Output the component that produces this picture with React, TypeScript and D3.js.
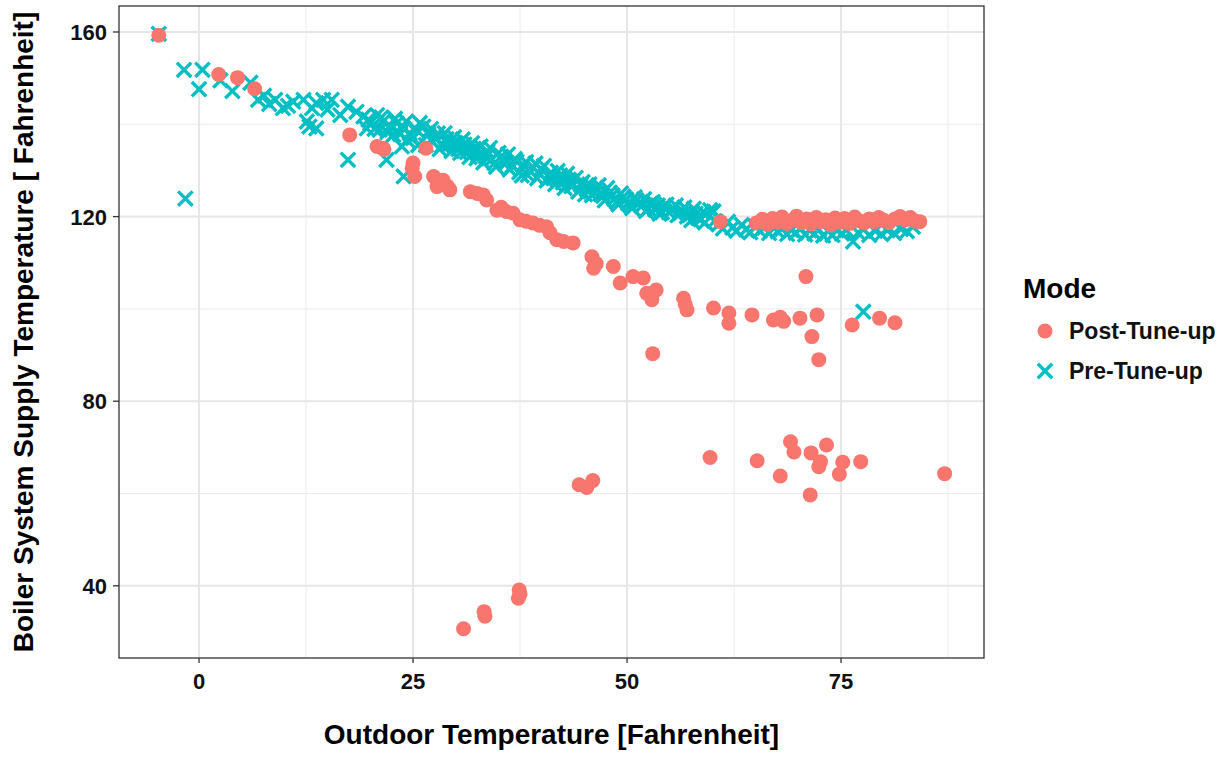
import React from "react";
import * as d3 from "d3";

// Pre-Tune-up (cyan X) points: [outdoor temp, supply temp]
const preX: number[] = [
  -4.7, -1.75, 0.4, 0.0, -1.6, 3.9, 2.5, 6.0, 6.9, 8.9, 9.8, 11.0, 12.2, 13.2, 13.7, 14.5, 15.5, 12.6, 13.7, 12.9,
  16.5, 17.4, 18.4, 17.4, 19.2, 20.0, 20.8, 21.5, 22.3, 23.1, 23.9, 24.6, 25.4, 26.2, 19.6, 21.1, 22.7, 24.3, 25.6, 23.7,
  21.9, 23.9, 7.6, 8.2, 10.4, 15.0,
  26.8, 27.3, 27.9, 28.4, 28.9, 29.5, 30.0, 30.5, 31.0, 31.6, 32.1, 32.6, 33.2, 33.7, 34.2, 34.7, 35.3, 35.8, 36.3, 36.9,
  37.4, 37.9, 38.4, 39.0, 39.5, 40.0, 40.6, 41.1, 41.6, 42.2, 42.7, 43.2, 43.7, 44.3, 44.8, 45.3, 45.9, 46.4, 46.9, 47.4,
  48.0, 48.5, 49.0, 49.6, 50.1, 50.6, 51.1, 51.7, 52.2, 52.7, 53.3, 53.8, 54.3, 54.9, 55.4, 55.9, 56.4, 57.0, 57.5, 58.0,
  58.6, 59.1, 59.7, 60.1, 60.2, 60.7, 61.2, 61.8, 62.3, 62.8, 63.4, 63.9, 64.4, 65.0, 65.5, 66.0, 66.6, 67.1, 67.6, 68.1,
  68.7, 69.2, 69.7, 70.3, 70.8, 71.3, 71.9, 72.4, 72.9, 73.5, 74.0, 74.5, 75.1, 75.6, 76.4, 77.0, 77.6, 78.3, 79.0, 79.7,
  80.4, 81.2, 82.0, 82.7, 83.4, 77.6,
  19.8, 20.5, 21.3, 22.0, 22.9, 23.5, 24.2, 25.0, 25.8, 26.5, 27.1, 27.6, 28.1, 28.7, 29.2, 29.8, 30.3, 30.8, 31.3, 31.9,
  32.4, 32.9, 33.5, 34.0, 34.5, 35.0, 35.6, 36.1, 36.6, 37.1, 37.7, 38.2, 38.7, 39.3, 39.8, 40.3, 40.9, 41.4, 41.9, 42.5,
  43.0, 43.5, 44.0, 44.6, 45.1, 45.6, 46.2, 46.7, 47.2, 47.7, 48.3, 48.8, 49.3, 49.9, 50.4, 50.9, 51.4, 52.0, 52.5, 53.0,
  53.6, 54.1, 54.6, 55.2, 55.7, 56.2, 56.7, 57.3, 57.8, 58.3, 58.9,
];
const preY: number[] = [
  159.6, 151.8, 151.8, 147.6, 123.9, 147.2, 149.5, 149.0, 145.3, 145.3, 143.5, 144.9, 145.3, 143.5, 144.6, 145.3, 145.3, 140.6, 139.1, 139.5,
  142.0, 143.8, 142.7, 132.3, 141.7, 140.2, 142.0, 140.6, 139.5, 140.2, 139.1, 138.1, 138.8, 139.5, 139.1, 138.8, 137.7, 136.6, 135.5, 135.2,
  132.3, 128.7, 146.2, 144.4, 144.0, 143.2,
  137.9, 136.2, 138.0, 135.4, 136.8, 134.2, 135.9, 133.8, 135.6, 132.9, 134.7, 133.2, 131.7, 134.1, 132.4, 130.8, 133.0, 131.5, 130.2, 132.5,
  129.6, 131.2, 129.0, 130.7, 128.3, 130.3, 127.8, 129.5, 127.0, 128.9, 126.2, 128.0, 126.8, 125.4, 127.5, 125.9, 124.6, 126.3, 124.9, 123.5,
  125.2, 123.8, 122.6, 124.3, 122.9, 121.8, 123.5, 122.3, 121.2, 122.8, 121.5, 120.6, 122.1, 120.9, 121.8, 120.3, 121.4, 120.0, 119.2, 120.6,
  119.4, 118.7, 121.4, 121.1, 119.0, 118.3, 117.4, 118.9, 117.6, 116.9, 118.2, 117.2, 116.6, 117.9, 116.9, 117.5, 116.4, 117.6, 116.8, 117.3,
  116.2, 117.1, 116.5, 117.4, 116.1, 117.0, 116.3, 117.2, 115.9, 116.8, 116.0, 117.0, 116.3, 117.1, 114.6, 116.5, 117.2, 116.0, 116.9, 116.2,
  117.0, 116.4, 117.3, 116.8, 117.8, 99.4,
  141.0, 139.0, 141.5, 138.3, 141.2, 137.9, 140.6, 137.0, 140.3, 135.5, 139.0, 137.2, 134.6, 138.1, 135.6, 137.2, 134.6, 136.7, 134.0, 135.9,
  132.6, 135.2, 133.0, 134.9, 131.6, 133.8, 132.1, 133.5, 131.0, 131.9, 128.9, 131.8, 129.9, 131.5, 129.2, 131.0, 128.6, 128.3, 129.9, 127.4,
  129.3, 126.6, 128.4, 126.9, 124.8, 127.0, 125.2, 126.8, 124.5, 126.2, 124.6, 123.2, 125.0, 123.7, 122.4, 124.2, 122.9, 123.8, 121.7, 123.2,
  122.4, 120.9, 122.6, 121.4, 122.4, 120.7, 122.0, 120.5, 121.7, 119.7, 121.0,
];

// Post-Tune-up (red circle) points
const postX: number[] = [
  -4.7, 2.3, 4.5, 6.5, 17.6, 20.8, 21.5, 21.6, 25.0, 25.2, 24.9, 26.5,
  27.4, 28.5, 29.3, 27.8, 28.2, 29.0, 31.7, 33.2, 33.6, 32.5, 34.8, 35.9, 36.7, 35.3,
  37.5, 38.2, 39.0, 39.8, 40.6, 41.0, 41.8, 42.6, 43.7, 45.9, 46.1, 46.4,
  48.4, 49.2, 50.7, 51.9, 52.3, 53.4, 52.9, 56.6, 57.0, 56.8, 53.0,
  60.1, 61.9, 61.9, 64.6, 67.1, 67.9, 68.3, 70.2, 72.2, 71.6, 72.4, 70.9, 76.3, 79.5, 81.3,
  60.9, 65.1, 65.8, 66.4, 67.0, 67.6, 68.1, 68.7, 69.3, 69.8, 70.4, 71.0, 71.5, 72.1, 72.6, 73.2, 73.8, 74.3,
  74.9, 75.4, 76.0, 76.6, 77.1, 77.7, 78.3, 78.9, 79.4, 80.0, 80.6, 81.3, 81.9, 82.5, 83.1, 83.7, 84.2,
  30.9, 33.3, 33.4, 37.4, 37.3, 37.5, 44.4, 46.0, 45.3,
  59.7, 65.2, 67.9, 69.1, 69.5, 71.5, 73.3, 72.6, 72.4, 71.4, 75.2, 74.8, 77.3, 87.1,
];
const postY: number[] = [
  159.3, 150.8, 150.1, 147.7, 137.7, 135.2, 134.8, 134.6, 131.6, 128.7, 130.5, 134.8,
  128.7, 127.9, 125.8, 126.5, 127.2, 126.6, 125.4, 124.7, 123.6, 125.0, 121.4, 121.1, 120.7, 122.0,
  119.3, 119.0, 118.6, 118.1, 117.8, 116.5, 115.0, 114.6, 114.3, 111.3, 108.8, 109.8,
  109.2, 105.6, 107.0, 106.7, 103.4, 104.1, 102.0, 102.3, 99.8, 101.0, 90.3,
  100.2, 99.1, 96.9, 98.7, 97.6, 98.2, 97.3, 98.0, 98.7, 94.0, 89.0, 107.0, 96.5, 98.0, 97.0,
  118.9, 118.6, 119.4, 118.3, 119.6, 118.8, 119.9, 118.5, 119.2, 120.1, 118.7, 119.5, 118.4, 119.8, 118.9, 119.3, 118.2, 119.7,
  118.8, 119.6, 118.5, 119.9, 119.1, 118.6, 119.5, 118.9, 119.8, 119.2, 118.7, 119.5, 120.0, 119.3, 119.8, 119.0, 118.9,
  30.7, 34.4, 33.4, 39.1, 37.3, 38.2, 61.9, 62.8, 61.3,
  67.8, 67.1, 63.8, 71.2, 69.0, 68.8, 70.5, 66.9, 65.8, 59.7, 66.8, 64.2, 66.9, 64.3,
];

const xTicks: number[] = [0, 25, 50, 75];
const yTicks: number[] = [40, 80, 120, 160];
const xMinor: number[] = [-12.5, 12.5, 37.5, 62.5, 87.5];
const yMinor: number[] = [60, 100, 140];
const seriesNames: string[] = ["Post-Tune-up", "Pre-Tune-up"];
const seriesColors: string[] = ["#F8766D", "#00BFC4"];

const W = 1227;
const H = 757;
const panel = { left: 119, right: 984, top: 6, bottom: 658 };

export default function App() {
  const x = d3.scaleLinear().domain([-9.35, 91.7]).range([panel.left, panel.right]);
  const y = d3.scaleLinear().domain([24.36, 165.63]).range([panel.bottom, panel.top]);
  const font = "'Liberation Sans', Arial, sans-serif";
  const xs = 7.2;
  const crossPath = (cx: number, cy: number) =>
    `M${cx - xs},${cy - xs}L${cx + xs},${cy + xs}M${cx - xs},${cy + xs}L${cx + xs},${cy - xs}`;
  const inX = (v: number) => x(v) > panel.left && x(v) < panel.right;
  const inY = (v: number) => y(v) > panel.top && y(v) < panel.bottom;

  return (
    <svg width={W} height={H} style={{ position: "absolute", left: 0, top: 0, background: "#fff" }} fontFamily={font}>
      <rect x={0} y={0} width={W} height={H} fill="#fff" />
      {/* grid */}
      <g>
        {xMinor.filter(inX).map((v) => (
          <line key={"xm" + v} x1={x(v)} x2={x(v)} y1={panel.top} y2={panel.bottom} stroke="#ebebeb" strokeWidth={1} />
        ))}
        {yMinor.filter(inY).map((v) => (
          <line key={"ym" + v} x1={panel.left} x2={panel.right} y1={y(v)} y2={y(v)} stroke="#ebebeb" strokeWidth={1} />
        ))}
        {xTicks.map((v) => (
          <line key={"xg" + v} x1={x(v)} x2={x(v)} y1={panel.top} y2={panel.bottom} stroke="#e6e6e6" strokeWidth={2} />
        ))}
        {yTicks.map((v) => (
          <line key={"yg" + v} x1={panel.left} x2={panel.right} y1={y(v)} y2={y(v)} stroke="#e6e6e6" strokeWidth={2} />
        ))}
      </g>
      {/* points */}
      <g stroke={seriesColors[1]} strokeWidth={3.4} fill="none" strokeLinecap="butt">
        {preX.map((v, i) => (
          <path key={"p" + i} d={crossPath(x(v), y(preY[i]))} />
        ))}
      </g>
      <g fill={seriesColors[0]}>
        {postX.map((v, i) => (
          <circle key={"c" + i} cx={x(v)} cy={y(postY[i])} r={7.5} />
        ))}
      </g>
      {/* panel border */}
      <rect x={panel.left} y={panel.top} width={panel.right - panel.left} height={panel.bottom - panel.top} fill="none" stroke="#333" strokeWidth={1.3} />
      {/* axes */}
      {xTicks.map((v) => (
        <g key={"xt" + v}>
          <line x1={x(v)} x2={x(v)} y1={panel.bottom} y2={panel.bottom + 5} stroke="#333" strokeWidth={1.3} />
          <text x={x(v)} y={panel.bottom + 31} textAnchor="middle" fontSize={22} fontWeight="bold" fill="#111">
            {v}
          </text>
        </g>
      ))}
      {yTicks.map((v) => (
        <g key={"yt" + v}>
          <line x1={panel.left - 6} x2={panel.left} y1={y(v)} y2={y(v)} stroke="#333" strokeWidth={1.3} />
          <text x={panel.left - 12} y={y(v) + 8} textAnchor="end" fontSize={22} fontWeight="bold" fill="#111">
            {v}
          </text>
        </g>
      ))}
      <text x={(panel.left + panel.right) / 2} y={744} textAnchor="middle" fontSize={28} fontWeight="bold" fill="#000">
        Outdoor Temperature [Fahrenheit]
      </text>
      <text
        transform={`translate(33,${(panel.top + panel.bottom) / 2}) rotate(-90)`}
        textAnchor="middle"
        fontSize={28}
        fontWeight="bold"
        fill="#000"
      >
        Boiler System Supply Temperature [ Fahrenheit]
      </text>
      {/* legend */}
      <text x={1023} y={298} fontSize={28} fontWeight="bold" fill="#000">
        Mode
      </text>
      <circle cx={1045} cy={331} r={7.5} fill={seriesColors[0]} />
      <text x={1069} y={339} fontSize={23} fontWeight="bold" fill="#111">
        {seriesNames[0]}
      </text>
      <path d={crossPath(1045, 371)} stroke={seriesColors[1]} strokeWidth={3.4} fill="none" />
      <text x={1069} y={379} fontSize={23} fontWeight="bold" fill="#111">
        {seriesNames[1]}
      </text>
    </svg>
  );
}
